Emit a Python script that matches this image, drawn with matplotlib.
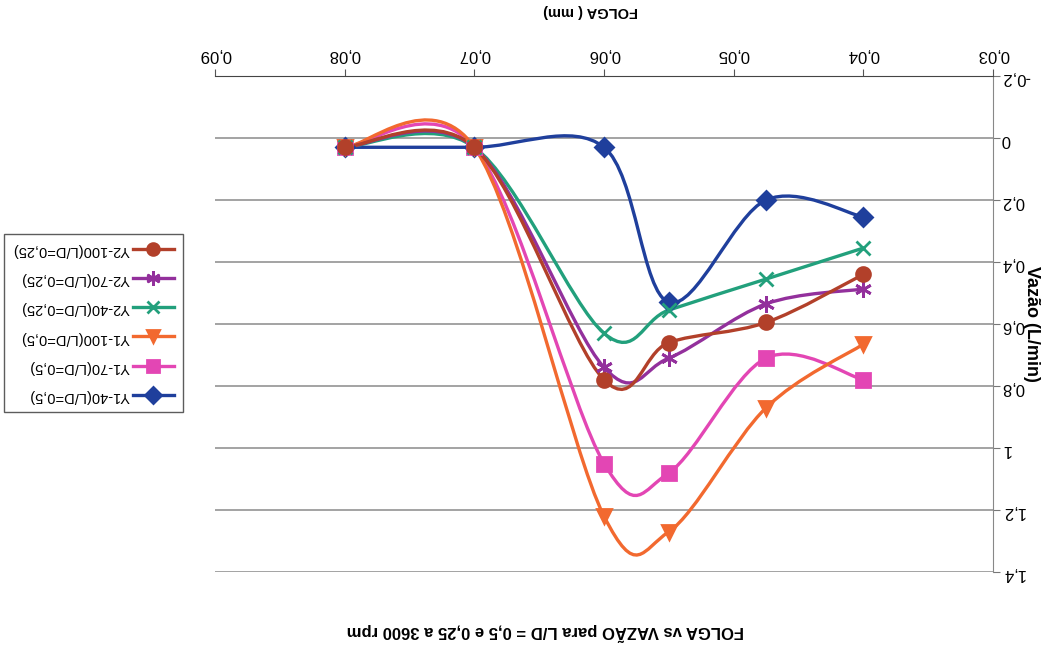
import numpy as np
import matplotlib.pyplot as plt
from matplotlib.path import Path
from matplotlib.patches import PathPatch
from matplotlib.lines import Line2D
from matplotlib.ticker import FuncFormatter

plt.rcParams['font.family'] = ['Liberation Sans', 'DejaVu Sans']

# folga (mm) em cada ponto
folga = [0.08, 0.07, 0.06, 0.055, 0.0475, 0.04]

# vazao (L/min) por serie
y1_40 = [0.03, 0.03, 0.03, 0.53, 0.20, 0.255]
y1_70 = [0.03, 0.03, 1.05, 1.08, 0.71, 0.78]
y1_100 = [0.03, 0.03, 1.22, 1.27, 0.87, 0.665]
y2_40 = [0.03, 0.03, 0.63, 0.555, 0.455, 0.355]
y2_70 = [0.03, 0.03, 0.74, 0.71, 0.535, 0.487]
y2_100 = [0.03, 0.03, 0.78, 0.66, 0.595, 0.44]

labels = ["Y1-40(L/D=0,5)", "Y1-70(L/D=0,5)", "Y1-100(L/D=0,5)",
          "Y2-40(L/D=0,25)", "Y2-70(L/D=0,25)", "Y2-100(L/D=0,25)"]
series = [y1_40, y1_70, y1_100, y2_40, y2_70, y2_100]
colors = ["#1f3f9c", "#e346b4", "#f2692f", "#22a07c", "#93309c", "#b2402a"]
markers = ["D", "s", "v", "x", (6, 2, 0), "o"]
msizes = [9, 10, 10, 10, 12, 10]


def smooth_path(x, y):
    # curva suave tipo Excel (bezier com tangentes catmull-rom)
    pts = np.column_stack([x, y])
    n = len(pts)
    verts = [pts[0]]
    codes = [Path.MOVETO]
    for i in range(n - 1):
        p0 = pts[i - 1] if i > 0 else pts[i]
        p1 = pts[i]
        p2 = pts[i + 1]
        p3 = pts[i + 2] if i + 2 < n else pts[i + 1]
        verts += [p1 + (p2 - p0) / 6, p2 - (p3 - p1) / 6, p2]
        codes += [Path.CURVE4] * 3
    return Path(verts, codes)


fig = plt.figure(figsize=(10.57, 6.55), dpi=100)
ax = fig.add_axes([0.2034, 0.1267, 0.7361, 0.7573])

handles = []
for ys, lab, c, m, ms in zip(series, labels, colors, markers, msizes):
    ax.add_patch(PathPatch(smooth_path(folga, ys), fill=False, edgecolor=c, lw=2.4, zorder=3))
    ax.plot(folga, ys, linestyle='none', marker=m, color=c, markersize=ms,
            markeredgewidth=2, zorder=4)
    handles.append(Line2D([], [], color=c, lw=2.4, marker=m, markersize=ms * 0.85,
                          markeredgewidth=2, label=lab))

# grafico virado 180 graus
ax.set_xlim(0.09, 0.03)
ax.set_ylim(1.4, -0.2)
ax.set_xticks(np.arange(0.03, 0.0901, 0.01))
ax.set_yticks(np.arange(-0.2, 1.401, 0.2))

fmt = lambda v, p: ("%g" % round(v, 2)).replace('.', ',')
ax.xaxis.set_major_formatter(FuncFormatter(fmt))
ax.yaxis.set_major_formatter(FuncFormatter(fmt))

ax.xaxis.tick_top()
ax.yaxis.tick_right()
ax.xaxis.set_label_position('top')
ax.yaxis.set_label_position('right')
ax.tick_params(axis='x', labelsize=12, labelrotation=180, length=5, color='#555555', pad=5)
ax.tick_params(axis='y', labelsize=12, labelrotation=180, length=5, color='#777777', pad=1)

for s in ['left', 'bottom']:
    ax.spines[s].set_visible(False)
ax.spines['top'].set_color('#444444')
ax.spines['right'].set_color('#888888')

ax.yaxis.grid(True, color='#8a8a8a', lw=1.1)
ax.set_axisbelow(True)

ax.set_xlabel("FOLGA ( mm)", fontsize=10.5, fontweight='bold', rotation=180,
              ha='center', va='center')
ax.xaxis.set_label_coords(0.483, 1.13)
ax.set_ylabel("Vazão (L/min)", fontsize=13, fontweight='bold', rotation=270,
              ha='center', va='center')
ax.yaxis.set_label_coords(1.05, 0.5)

fig.text(0.516, 0.035, "FOLGA vs VAZÃO para L/D = 0,5 e 0,25 a 3600 rpm", fontsize=12,
         fontweight='bold', rotation=180, ha='center', va='center')

leg = fig.legend(handles=handles[::-1], loc='center left', bbox_to_anchor=(0.004, 0.507),
                 markerfirst=False, fontsize=10.5, frameon=True, fancybox=False,
                 edgecolor='#333333', handlelength=2.8, labelspacing=1.05,
                 borderpad=0.6, handletextpad=0.2, borderaxespad=0)
for t in leg.get_texts():
    t.set_rotation(180)

fig.savefig("out.png", dpi=100)
